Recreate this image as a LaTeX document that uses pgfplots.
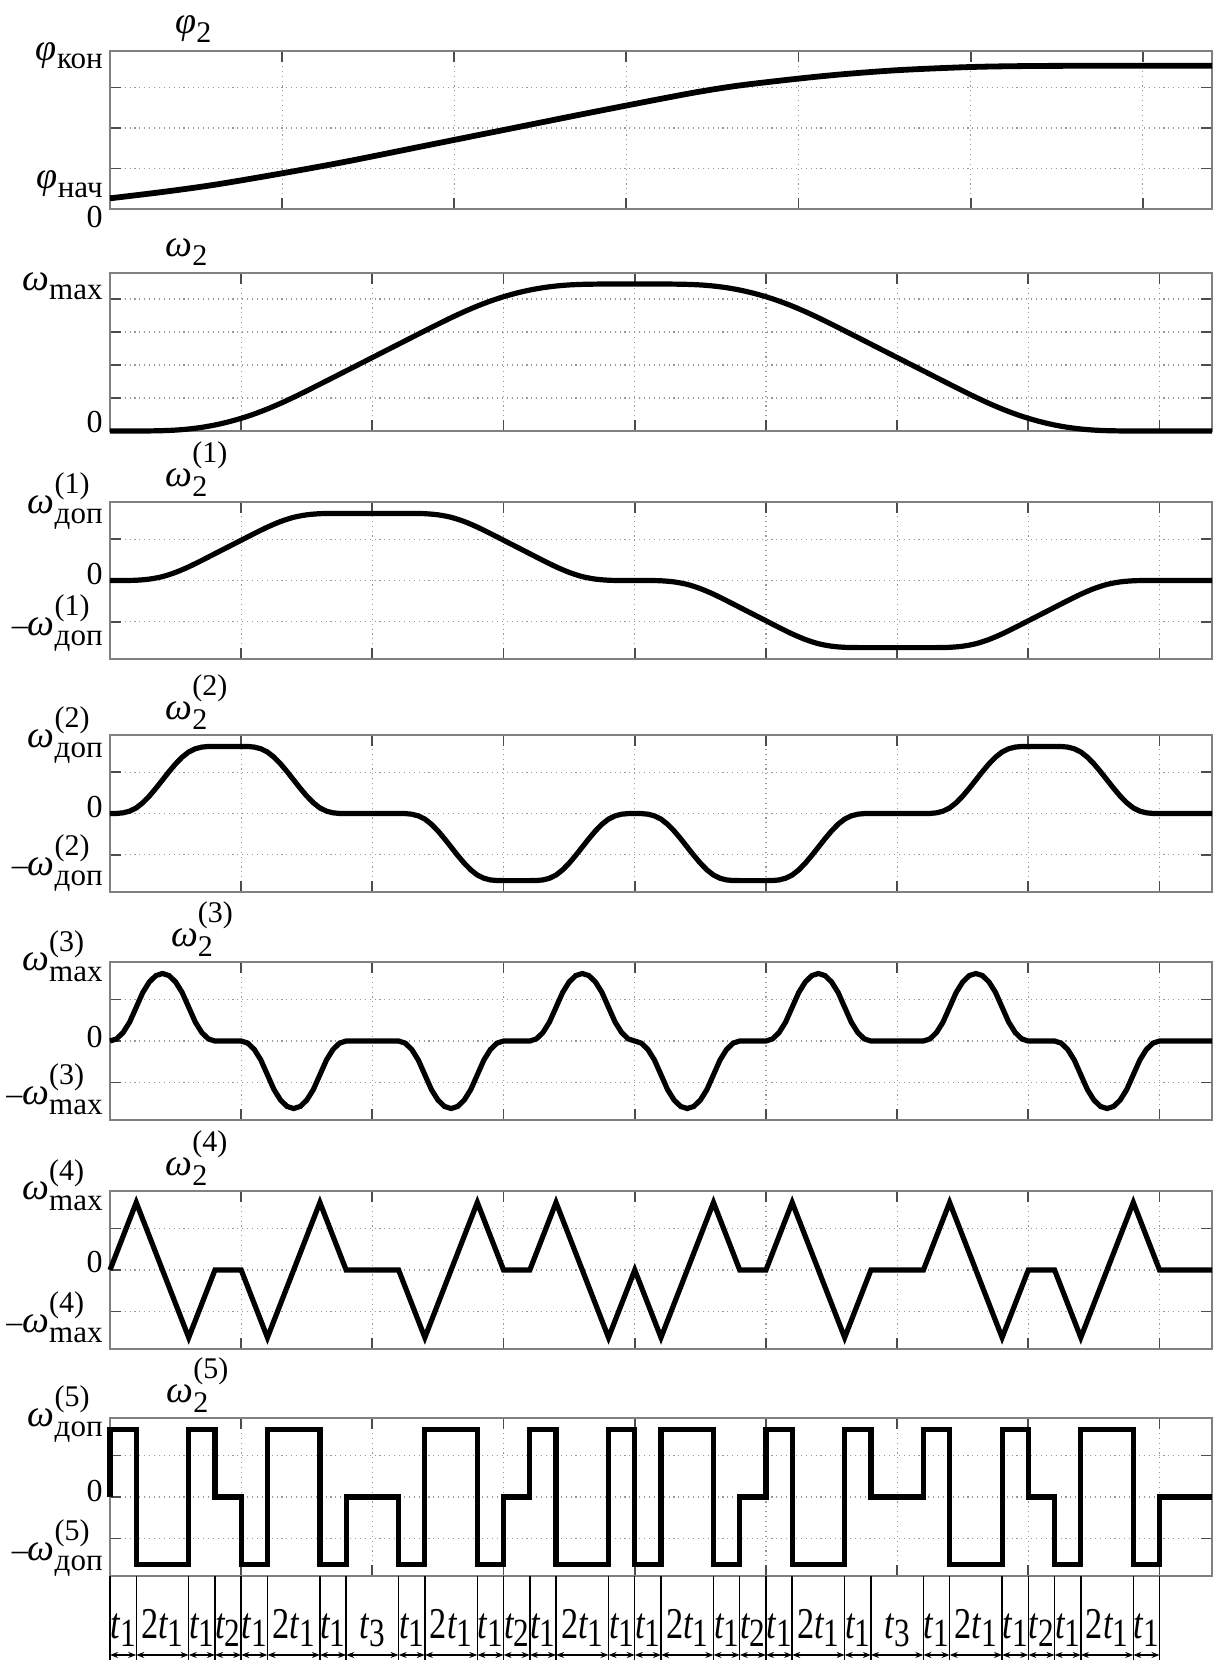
\documentclass[border=0pt]{standalone}
\usepackage{fontspec}
\setmainfont{Liberation Serif}
\usepackage{graphicx}
\usepackage{pgfplots}
\pgfplotsset{compat=1.18}
\usetikzlibrary{arrows.meta}

\newcommand\fm{\fontsize{16}{18}\selectfont}
\newcommand\w{{\fontsize{19}{19}\selectfont\textit{ω}}}
\newcommand\f{{\fontsize{19}{19}\selectfont\textit{φ}}}
% base + subscript
\newcommand\bs[2]{#1\raisebox{-0.27em}{\fontsize{15.5}{15.5}\selectfont #2}}
% base + superscript + subscript (subscript is the wider one)
\newcommand\bss[3]{#1\rlap{\raisebox{0.62em}{\fontsize{15}{15}\selectfont #2}}\raisebox{-0.32em}{\fontsize{15.5}{15.5}\selectfont #3}}
% panel titles omega_2^(k)
\newcommand\ttl[1]{\w\rlap{\raisebox{-0.33em}{\fontsize{15}{15}\selectfont 2}}\raisebox{0.75em}{\fontsize{15}{15}\selectfont (#1)}}
\newcommand\tl[1]{\textit{t}\kern-0.5pt\raisebox{-0.2em}{\fontsize{20}{20}\selectfont #1}}

\pgfplotsset{
  panel/.style={scale only axis, width=551pt, xmin=0, xmax=42, anchor=north west,
    axis line style={black!50, line width=0.7pt},
    tick align=inside, tick pos=both, major tick length=5.5pt,
    tick style={black!70, line width=0.9pt},
    xtick={5,10,...,40}, xticklabel=\empty, yticklabel=\empty,
    grid=major, major grid style={black!40, line width=0.55pt, dash pattern=on 0.55pt off 1.9pt},
    clip=false},
  sym/.style={panel, height=79pt, ymin=-1.17, ymax=1.17, ytick={-0.615,0,0.615}},
  crv/.style={black, line width=2.6pt, mark=none, line join=miter},
}
\tikzset{lab/.style={anchor=east, inner sep=0pt, xshift=-3.5pt, font=\fm},
  ttl/.style={anchor=south west, inner sep=0pt, yshift=2.5pt, font=\fm},
  arr/.style={{Stealth[length=4pt,width=3pt]}-{Stealth[length=4pt,width=3pt]}, line width=0.7pt},
  tlab/.style={anchor=base, inner sep=0pt, font=\fontsize{22}{24}\selectfont}}
\newcommand\seg[4]{\draw[arr] (axis cs:#1,0.06) -- (axis cs:#2,0.06); \node[tlab] at (axis cs:#3,0.262) {\scalebox{0.78}[1]{#4}};}

\begin{document}
\begin{tikzpicture}

% phi_2
\begin{axis}[panel, at={(0pt,-25.5pt)}, height=79pt, ymin=0, ymax=3.9, ytick={1,2,3},
  xtick={6.56,13.12,19.68,26.24,32.8,39.36}]
\addplot[crv, smooth, line width=2.9pt] coordinates {(0,0.264) (2,0.42) (4,0.60) (6.55,0.88) (9,1.17) (12,1.56) (15,1.95) (18,2.34) (21,2.72) (22.5,2.90) (24,3.05) (26.26,3.22) (28,3.33) (30.11,3.43) (32.81,3.505) (35.18,3.53) (38,3.535) (42,3.535)};
\node[lab] at (axis cs:0,3.78) {\bs{\f}{кон}};
\node[lab] at (axis cs:0,0.62) {\bs{\f}{нач}};
\node[lab] at (axis cs:0,-0.2) {0};
\node[ttl, yshift=1.5pt] at (rel axis cs:0.059,1) {\f\raisebox{-0.3em}{\fontsize{15}{15}\selectfont 2}};
\end{axis}

% omega_2
\begin{axis}[panel, at={(0pt,-136.5pt)}, height=79pt, ymin=0, ymax=1.075, ytick={0.2245,0.449,0.6735,0.898}]
\addplot[crv, smooth] coordinates {(0,0) (0.5,0) (1,0.0001) (1.5,0.0006) (2,0.0023) (2.5,0.0062) (3,0.0136) (3.5,0.025) (4,0.0409) (4.5,0.0614) (5,0.0864) (5.5,0.1159) (6,0.1499) (6.5,0.1881) (7,0.2295) (7.5,0.2733) (8,0.3183) (8.5,0.3636) (9,0.4091) (9.5,0.4545) (10,0.5) (10.5,0.5455) (11,0.5909) (11.5,0.6364) (12,0.6817) (12.5,0.7267) (13,0.7705) (13.5,0.8119) (14,0.8501) (14.5,0.8841) (15,0.9136) (15.5,0.9386) (16,0.9591) (16.5,0.975) (17,0.9864) (17.5,0.9938) (18,0.9977) (18.5,0.9994) (19,0.9999) (19.5,1) (20,1) (20.5,1) (21,0.9999) (21.5,0.9994) (22,0.9977) (22.5,0.9938) (23,0.9864) (23.5,0.975) (24,0.9591) (24.5,0.9386) (25,0.9136) (25.5,0.8841) (26,0.8501) (26.5,0.8119) (27,0.7705) (27.5,0.7267) (28,0.6817) (28.5,0.6364) (29,0.5909) (29.5,0.5455) (30,0.5) (30.5,0.4545) (31,0.4091) (31.5,0.3636) (32,0.3183) (32.5,0.2733) (33,0.2295) (33.5,0.1881) (34,0.1499) (34.5,0.1159) (35,0.0864) (35.5,0.0614) (36,0.0409) (36.5,0.025) (37,0.0136) (37.5,0.0062) (38,0.0023) (38.5,0.0006) (39,0.0001) (39.5,0) (40,0) (42,0)};
\node[lab] at (axis cs:0,0.986) {\bs{\w}{max}};
\node[lab] at (axis cs:0,0.061) {0};
\node[ttl, yshift=1pt] at (rel axis cs:0.05,1) {\w\raisebox{-0.3em}{\fontsize{15}{15}\selectfont 2}};
\end{axis}

% omega_2^(1)
\begin{axis}[sym, at={(0pt,-251pt)}, height=78.5pt]
\addplot[crv, smooth] coordinates {(0,0) (0.5,0) (1,0.004) (1.5,0.021) (2,0.058) (2.5,0.121) (3,0.204) (3.5,0.300) (4,0.4) (4.5,0.5) (5,0.6) (5.5,0.700) (6,0.796) (6.5,0.879) (7,0.942) (7.5,0.979) (8,0.996) (8.5,1) (9,1) (11,1) (11.5,1) (12,0.996) (12.5,0.979) (13,0.942) (13.5,0.879) (14,0.796) (14.5,0.700) (15,0.6) (15.5,0.5) (16,0.4) (16.5,0.300) (17,0.204) (17.5,0.121) (18,0.058) (18.5,0.021) (19,0.004) (19.5,0) (20,0) (20.5,0) (21,-0.004) (21.5,-0.021) (22,-0.058) (22.5,-0.121) (23,-0.204) (23.5,-0.300) (24,-0.4) (24.5,-0.5) (25,-0.6) (25.5,-0.700) (26,-0.796) (26.5,-0.879) (27,-0.942) (27.5,-0.979) (28,-0.996) (28.5,-1) (29,-1) (31,-1) (31.5,-1) (32,-0.996) (32.5,-0.979) (33,-0.942) (33.5,-0.879) (34,-0.796) (34.5,-0.700) (35,-0.6) (35.5,-0.5) (36,-0.4) (36.5,-0.300) (37,-0.204) (37.5,-0.121) (38,-0.058) (38.5,-0.021) (39,-0.004) (39.5,0) (40,0) (42,0)};
\node[lab] at (axis cs:0,1.185) {\bss{\w}{(1)}{доп}};
\node[lab] at (axis cs:0,0.104) {0};
\node[lab] at (axis cs:0,-0.637) {–\bss{\w}{(1)}{доп}};
\node[ttl] at (rel axis cs:0.05,1) {\ttl{1}};
\end{axis}

% omega_2^(2)
\begin{axis}[sym, at={(0pt,-367.5pt)}, height=78.5pt]
\addplot[crv] coordinates {(0,0) (0.25,0.001) (0.5,0.010) (0.75,0.035) (1,0.083) (1.25,0.160) (1.5,0.260) (1.75,0.376) (2,0.5) (2.25,0.624) (2.5,0.740) (2.75,0.840) (3,0.917) (3.25,0.965) (3.5,0.990) (3.75,0.999) (4,1) (5,1) (5.25,0.999) (5.5,0.990) (5.75,0.965) (6,0.917) (6.25,0.840) (6.5,0.740) (6.75,0.624) (7,0.5) (7.25,0.376) (7.5,0.260) (7.75,0.160) (8,0.083) (8.25,0.035) (8.5,0.010) (8.75,0.001) (9,0) (11,0) (11.25,-0.001) (11.5,-0.010) (11.75,-0.035) (12,-0.083) (12.25,-0.160) (12.5,-0.260) (12.75,-0.376) (13,-0.5) (13.25,-0.624) (13.5,-0.740) (13.75,-0.840) (14,-0.917) (14.25,-0.965) (14.5,-0.990) (14.75,-0.999) (15,-1) (16,-1) (16.25,-0.999) (16.5,-0.990) (16.75,-0.965) (17,-0.917) (17.25,-0.840) (17.5,-0.740) (17.75,-0.624) (18,-0.5) (18.25,-0.376) (18.5,-0.260) (18.75,-0.160) (19,-0.083) (19.25,-0.035) (19.5,-0.010) (19.75,-0.001) (20,0) (20.25,-0.001) (20.5,-0.010) (20.75,-0.035) (21,-0.083) (21.25,-0.160) (21.5,-0.260) (21.75,-0.376) (22,-0.5) (22.25,-0.624) (22.5,-0.740) (22.75,-0.840) (23,-0.917) (23.25,-0.965) (23.5,-0.990) (23.75,-0.999) (24,-1) (25,-1) (25.25,-0.999) (25.5,-0.990) (25.75,-0.965) (26,-0.917) (26.25,-0.840) (26.5,-0.740) (26.75,-0.624) (27,-0.5) (27.25,-0.376) (27.5,-0.260) (27.75,-0.160) (28,-0.083) (28.25,-0.035) (28.5,-0.010) (28.75,-0.001) (29,0) (31,0) (31.25,0.001) (31.5,0.010) (31.75,0.035) (32,0.083) (32.25,0.160) (32.5,0.260) (32.75,0.376) (33,0.5) (33.25,0.624) (33.5,0.740) (33.75,0.840) (34,0.917) (34.25,0.965) (34.5,0.990) (34.75,0.999) (35,1) (36,1) (36.25,0.999) (36.5,0.990) (36.75,0.965) (37,0.917) (37.25,0.840) (37.5,0.740) (37.75,0.624) (38,0.5) (38.25,0.376) (38.5,0.260) (38.75,0.160) (39,0.083) (39.25,0.035) (39.5,0.010) (39.75,0.001) (40,0) (42,0)};
\node[lab] at (axis cs:0,1.17) {\bss{\w}{(2)}{доп}};
\node[lab] at (axis cs:0,0.104) {0};
\node[lab] at (axis cs:0,-0.74) {–\bss{\w}{(2)}{доп}};
\node[ttl] at (rel axis cs:0.05,1) {\ttl{2}};
\end{axis}

% omega_2^(3)
\begin{axis}[sym, at={(0pt,-481pt)}]
\addplot[crv] coordinates {(0,0) (0.25,0.031) (0.5,0.125) (0.75,0.281) (1,0.5) (1.25,0.719) (1.5,0.875) (1.75,0.969) (2,1) (2.25,0.969) (2.5,0.875) (2.75,0.719) (3,0.5) (3.25,0.281) (3.5,0.125) (3.75,0.031) (4,0) (5,0) (5.25,-0.031) (5.5,-0.125) (5.75,-0.281) (6,-0.5) (6.25,-0.719) (6.5,-0.875) (6.75,-0.969) (7,-1) (7.25,-0.969) (7.5,-0.875) (7.75,-0.719) (8,-0.5) (8.25,-0.281) (8.5,-0.125) (8.75,-0.031) (9,0) (11,0) (11.25,-0.031) (11.5,-0.125) (11.75,-0.281) (12,-0.5) (12.25,-0.719) (12.5,-0.875) (12.75,-0.969) (13,-1) (13.25,-0.969) (13.5,-0.875) (13.75,-0.719) (14,-0.5) (14.25,-0.281) (14.5,-0.125) (14.75,-0.031) (15,0) (16,0) (16.25,0.031) (16.5,0.125) (16.75,0.281) (17,0.5) (17.25,0.719) (17.5,0.875) (17.75,0.969) (18,1) (18.25,0.969) (18.5,0.875) (18.75,0.719) (19,0.5) (19.25,0.281) (19.5,0.125) (19.75,0.031) (20,0) (20.25,-0.031) (20.5,-0.125) (20.75,-0.281) (21,-0.5) (21.25,-0.719) (21.5,-0.875) (21.75,-0.969) (22,-1) (22.25,-0.969) (22.5,-0.875) (22.75,-0.719) (23,-0.5) (23.25,-0.281) (23.5,-0.125) (23.75,-0.031) (24,0) (25,0) (25.25,0.031) (25.5,0.125) (25.75,0.281) (26,0.5) (26.25,0.719) (26.5,0.875) (26.75,0.969) (27,1) (27.25,0.969) (27.5,0.875) (27.75,0.719) (28,0.5) (28.25,0.281) (28.5,0.125) (28.75,0.031) (29,0) (31,0) (31.25,0.031) (31.5,0.125) (31.75,0.281) (32,0.5) (32.25,0.719) (32.5,0.875) (32.75,0.969) (33,1) (33.25,0.969) (33.5,0.875) (33.75,0.719) (34,0.5) (34.25,0.281) (34.5,0.125) (34.75,0.031) (35,0) (36,0) (36.25,-0.031) (36.5,-0.125) (36.75,-0.281) (37,-0.5) (37.25,-0.719) (37.5,-0.875) (37.75,-0.969) (38,-1) (38.25,-0.969) (38.5,-0.875) (38.75,-0.719) (39,-0.5) (39.25,-0.281) (39.5,-0.125) (39.75,-0.031) (40,0) (42,0)};
\node[lab] at (axis cs:0,1.26) {\bss{\w}{(3)}{max}};
\node[lab] at (axis cs:0,0.059) {0};
\node[lab] at (axis cs:0,-0.71) {–\bss{\w}{(3)}{max}};
\node[ttl] at (rel axis cs:0.055,1) {\ttl{3}};
\end{axis}

% omega_2^(4)
\begin{axis}[sym, at={(0pt,-595.5pt)}]
\addplot[crv] coordinates {(0,0) (1,1) (3,-1) (4,0) (5,0) (6,-1) (8,1) (9,0) (11,0) (12,-1) (14,1) (15,0) (16,0) (17,1) (19,-1) (20,0) (21,-1) (23,1) (24,0) (25,0) (26,1) (28,-1) (29,0) (31,0) (32,1) (34,-1) (35,0) (36,0) (37,-1) (39,1) (40,0) (42,0)};
\node[lab] at (axis cs:0,1.26) {\bss{\w}{(4)}{max}};
\node[lab] at (axis cs:0,0.118) {0};
\node[lab] at (axis cs:0,-0.70) {–\bss{\w}{(4)}{max}};
\node[ttl] at (rel axis cs:0.05,1) {\ttl{4}};
\end{axis}

% omega_2^(5)
\begin{axis}[sym, at={(0pt,-709pt)}]
\addplot[crv] coordinates {(0,0) (0,1) (1,1) (1,-1) (3,-1) (3,1) (4,1) (4,0) (5,0) (5,-1) (6,-1) (6,1) (8,1) (8,-1) (9,-1) (9,0) (11,0) (11,-1) (12,-1) (12,1) (14,1) (14,-1) (15,-1) (15,0) (16,0) (16,1) (17,1) (17,-1) (19,-1) (19,1) (20,1) (20,-1) (21,-1) (21,1) (23,1) (23,-1) (24,-1) (24,0) (25,0) (25,1) (26,1) (26,-1) (28,-1) (28,1) (29,1) (29,0) (31,0) (31,1) (32,1) (32,-1) (34,-1) (34,1) (35,1) (35,0) (36,0) (36,-1) (37,-1) (37,1) (39,1) (39,-1) (40,-1) (40,0) (42,0)};
\node[lab] at (axis cs:0,1.23) {\bss{\w}{(5)}{доп}};
\node[lab] at (axis cs:0,0.089) {0};
\node[lab] at (axis cs:0,-0.755) {–\bss{\w}{(5)}{доп}};
\node[ttl] at (rel axis cs:0.051,1) {\ttl{5}};
\end{axis}

% time intervals
\begin{axis}[at={(0pt,-788pt)}, anchor=north west, scale only axis, width=551pt, height=42pt,
  xmin=0, xmax=42, ymin=0, ymax=1, hide axis, clip=false]
\addplot[ycomb, black, line width=0.7pt, mark=none] coordinates {(0,1) (1,1) (3,1) (4,1) (5,1) (6,1) (8,1) (9,1) (11,1) (12,1) (14,1) (15,1) (16,1) (17,1) (19,1) (20,1) (21,1) (23,1) (24,1) (25,1) (26,1) (28,1) (29,1) (31,1) (32,1) (34,1) (35,1) (36,1) (37,1) (39,1) (40,1)};
\seg{0}{1}{0.5}{\tl{1}}
\seg{1}{3}{2}{2\tl{1}}
\seg{3}{4}{3.5}{\tl{1}}
\seg{4}{5}{4.5}{\tl{2}}
\seg{5}{6}{5.5}{\tl{1}}
\seg{6}{8}{7}{2\tl{1}}
\seg{8}{9}{8.5}{\tl{1}}
\seg{9}{11}{10}{\tl{3}}
\seg{11}{12}{11.5}{\tl{1}}
\seg{12}{14}{13}{2\tl{1}}
\seg{14}{15}{14.5}{\tl{1}}
\seg{15}{16}{15.5}{\tl{2}}
\seg{16}{17}{16.5}{\tl{1}}
\seg{17}{19}{18}{2\tl{1}}
\seg{19}{20}{19.5}{\tl{1}}
\seg{20}{21}{20.5}{\tl{1}}
\seg{21}{23}{22}{2\tl{1}}
\seg{23}{24}{23.5}{\tl{1}}
\seg{24}{25}{24.5}{\tl{2}}
\seg{25}{26}{25.5}{\tl{1}}
\seg{26}{28}{27}{2\tl{1}}
\seg{28}{29}{28.5}{\tl{1}}
\seg{29}{31}{30}{\tl{3}}
\seg{31}{32}{31.5}{\tl{1}}
\seg{32}{34}{33}{2\tl{1}}
\seg{34}{35}{34.5}{\tl{1}}
\seg{35}{36}{35.5}{\tl{2}}
\seg{36}{37}{36.5}{\tl{1}}
\seg{37}{39}{38}{2\tl{1}}
\seg{39}{40}{39.5}{\tl{1}}
\end{axis}

\pgfresetboundingbox
\path[use as bounding box] (-55pt,0pt) rectangle (551.5pt,-830pt);
\end{tikzpicture}
\end{document}
